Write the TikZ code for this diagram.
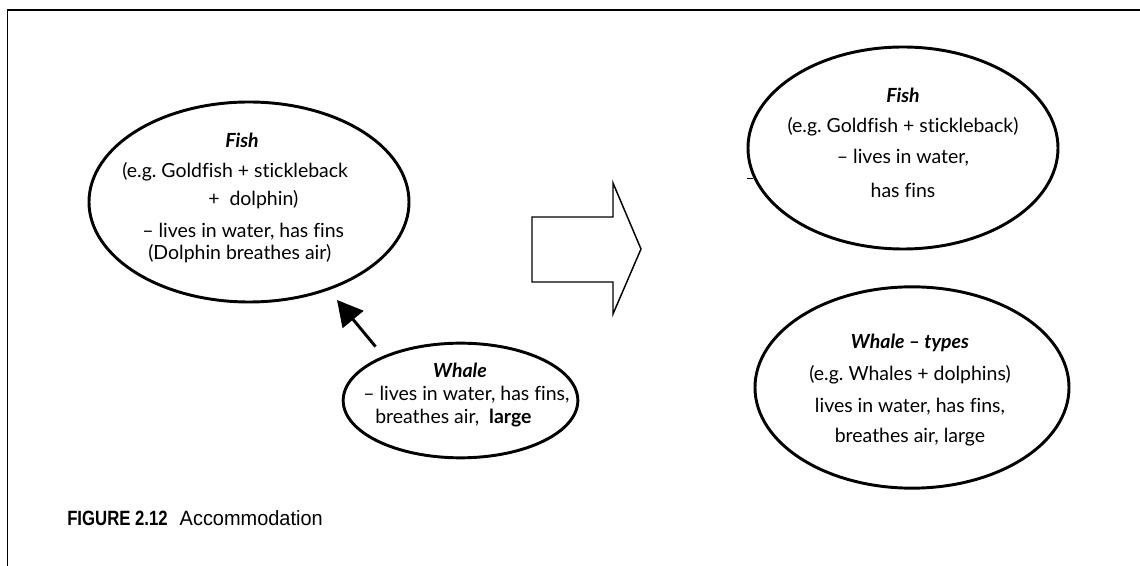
\documentclass[tikz,border=0pt]{standalone}
\usepackage{fontspec}
\setmainfont{Lato}[Ligatures=NoCommon]
\newfontfamily\capbold[FakeStretch=0.81]{Liberation Sans Bold}
\newfontfamily\capreg[FakeStretch=0.965]{Liberation Sans}
\usetikzlibrary{shapes.geometric,arrows.meta}
\frenchspacing

\begin{document}
\begin{tikzpicture}[x=0.75pt,y=-0.75pt,
  bubble/.style={draw, ellipse, line width=2.2pt, inner sep=0pt},
  txt/.style={font=\fontsize{14.6}{17}\selectfont, inner sep=0pt, anchor=center},
  ltxt/.style={txt, anchor=west},
  head/.style={txt, font=\fontsize{14.6}{17}\selectfont\bfseries\itshape},
  thin frame/.style={line width=1.4pt},
  bigarrow/.style={line width=1.1pt, line join=miter},
  pointer/.style={line width=2.2pt, -{Triangle[length=19pt,width=20pt]}}
]
\useasboundingbox (0,0) rectangle (1140,566);

% frame: top and left rules
\draw[thin frame] (7.5,566) -- (7.5,10) -- (1140,10);

% left: the original Fish category
\node[bubble, minimum width=240pt, minimum height=150pt] (fishL) at (249,202) {};
\node[head] (fishLh) at (242,140) {Fish};
\node[ltxt] (fishL1) at (122,172) {(e.g. Goldfish + stickleback};
\node[ltxt] (fishL2) at (208,200) {+\ \ dolphin)};
\node[ltxt] (fishL3) at (142,232) {-- lives in water, has fins};
\node[ltxt] (fishL4) at (148,254) {(Dolphin breathes air)};

% the new case
\node[bubble, minimum width=176pt, minimum height=86pt] (whale) at (460.5,400.5) {};
\node[head] (whaleh) at (460,370) {Whale};
\node[ltxt] (whale1) at (363,395) {-- lives in water, has fins,};
\node[ltxt] (whale2) at (375,418) {breathes air,\ \ \textbf{large}};

\coordinate (whaleTip) at (337,300);
\draw[pointer, shorten <=9pt] (whale.150) -- (whaleTip);

% block arrow
\draw[bigarrow] (532,217) -- (613,217) -- (613,183) -- (641,249)
  -- (613,314) -- (613,282) -- (532,282) -- cycle;

% right: the accommodated categories
\node[bubble, minimum width=232.5pt, minimum height=151.5pt] (fishR) at (903,148) {};
\node[head] (fishRh) at (903,95) {Fish};
\node[txt] (fishR1) at (903,127) {(e.g. Goldfish + stickleback)};
\node[txt] (fishR2) at (903,158) {-- lives in water,};
\node[txt] (fishR3) at (903,190) {has fins};
\draw[line width=0.6pt] (747,178) -- (753,178);

\node[bubble, minimum width=235.5pt, minimum height=151pt] (whaleR) at (912,387.5) {};
\node[head] (whaleRh) at (910,343) {Whale -- types};
\node[txt] (whaleR1) at (910,375) {(e.g. Whales + dolphins)};
\node[txt] (whaleR2) at (910,407) {lives in water, has fins,};
\node[txt] (whaleR3) at (910,437) {breathes air, large};

% caption
\node[anchor=west, inner sep=0pt, font=\fontsize{15.5}{18}\selectfont] (cap) at (67,518)
  {{\capbold FIGURE 2.12}\hspace{9pt}{\capreg Accommodation}};
\end{tikzpicture}
\end{document}
